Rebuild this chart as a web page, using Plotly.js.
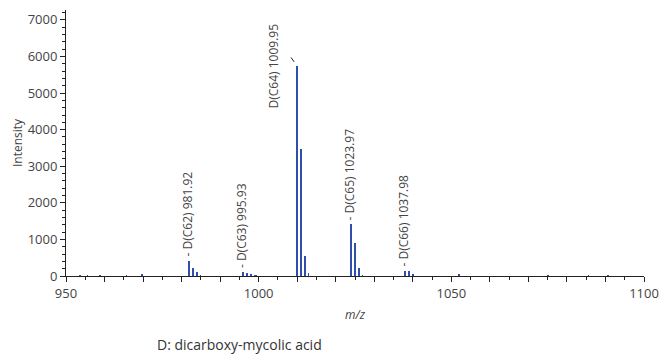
<!DOCTYPE html>
<html><head><meta charset="utf-8">
<script src="https://cdn.plot.ly/plotly-3.0.1.min.js"></script>
<style>html,body{margin:0;padding:0;background:#fff}#chart{width:665px;height:359px}</style>
</head><body><div id="chart"></div>
<script>
// peak list: m/z and intensity
const mz = [953.6, 955.6, 958.8, 965.7, 969.8,
  981.92, 982.92, 983.92, 984.9,
  995.93, 996.93, 997.93, 998.9, 999.4,
  1009.95, 1010.95, 1011.95, 1012.95,
  1023.97, 1024.97, 1025.97, 1026.97,
  1037.98, 1038.98, 1039.98, 1051.9, 1075.0, 1085.6, 1090.6];
const intensity = [40, 35, 30, 35, 45,
  410, 220, 110, 40,
  120, 80, 45, 30, 35,
  5740, 3470, 550, 90,
  1410, 910, 230, 35,
  150, 150, 50, 60, 20, 20, 20];
// labelled peaks
const labelMz = [981.92, 995.93, 1009.95, 1023.97, 1037.98];
const labelInt = [410, 120, 5740, 1410, 150];
const labelText = ["- D(C62) 981.92", "- D(C63) 995.93", "D(C64) 1009.95", "- D(C65) 1023.97", "- D(C66) 1037.98"];
const xTicks = [950, 960, 970, 980, 990, 1000, 1010, 1020, 1030, 1040, 1050, 1060, 1070, 1080, 1090, 1100];
const xTickText = ["950", "", "", "", "", "1000", "", "", "", "", "1050", "", "", "", "", "1100"];
const yTicks = [0, 1000, 2000, 3000, 4000, 5000, 6000, 7000];

const font = "Open Sans, Noto Sans, sans-serif";
const txt = "#444";

const annotations = [];
labelText.forEach((t, i) => {
  const main = i === 2;
  if (main) {
    annotations.push({
      x: labelMz[i], y: labelInt[i], xref: "x", yref: "y",
      text: t, textangle: -90, showarrow: false,
      xanchor: "right", yanchor: "middle", xshift: -13, yshift: 0,
      font: {family: font, size: 12, color: txt}
    });
    annotations.push({
      x: labelMz[i], y: labelInt[i], xref: "x", yref: "y",
      text: "", showarrow: true, arrowhead: 0, arrowwidth: 1, arrowcolor: "#222",
      ax: -7, ay: -10, standoff: 5
    });
  } else {
    annotations.push({
      x: labelMz[i], y: labelInt[i], xref: "x", yref: "y",
      text: t, textangle: -90, showarrow: false,
      xanchor: "center", yanchor: "bottom", xshift: -2, yshift: 2,
      font: {family: font, size: 12, color: txt}
    });
  }
});
annotations.push({
  xref: "paper", yref: "paper", x: 0.154, y: -0.259,
  xanchor: "left", yanchor: "middle", showarrow: false,
  text: "D: dicarboxy-mycolic acid",
  font: {family: font, size: 14, color: "#333"}
});

Plotly.newPlot("chart", [{
  type: "bar", x: mz, y: intensity, width: 0.45,
  marker: {color: "#2f4fae", line: {width: 0}},
  hoverinfo: "x+y"
}], {
  width: 665, height: 359,
  margin: {l: 66, r: 21, t: 10, b: 83},
  paper_bgcolor: "#fff", plot_bgcolor: "#fff",
  showlegend: false, bargap: 0,
  font: {family: font, size: 13, color: txt},
  xaxis: {
    range: [950, 1100], tickmode: "array", tickvals: xTicks, ticktext: xTickText,
    ticks: "outside", ticklen: 5, tickcolor: "#222", showgrid: false, zeroline: false,
    showline: true, linecolor: "#222", linewidth: 1,
    minor: {dtick: 5, tick0: 950, ticks: "outside", ticklen: 3, tickcolor: "#222", showgrid: false},
    tickfont: {family: font, size: 13, color: txt},
    title: {text: "<i>m/z</i>", font: {family: font, size: 12, color: txt}, standoff: 10}
  },
  yaxis: {
    range: [0, 7270], tickmode: "array", tickvals: yTicks,
    ticks: "outside", ticklen: 5, tickcolor: "#222", showgrid: false, zeroline: false,
    showline: true, linecolor: "#222", linewidth: 1,
    minor: {dtick: 200, ticks: "outside", ticklen: 3, tickcolor: "#222", showgrid: false},
    tickfont: {family: font, size: 13, color: txt},
    title: {text: "Intensity", font: {family: font, size: 12, color: txt}, standoff: 2}
  },
  annotations: annotations
}, {displayModeBar: false, staticPlot: true});
</script></body></html>
